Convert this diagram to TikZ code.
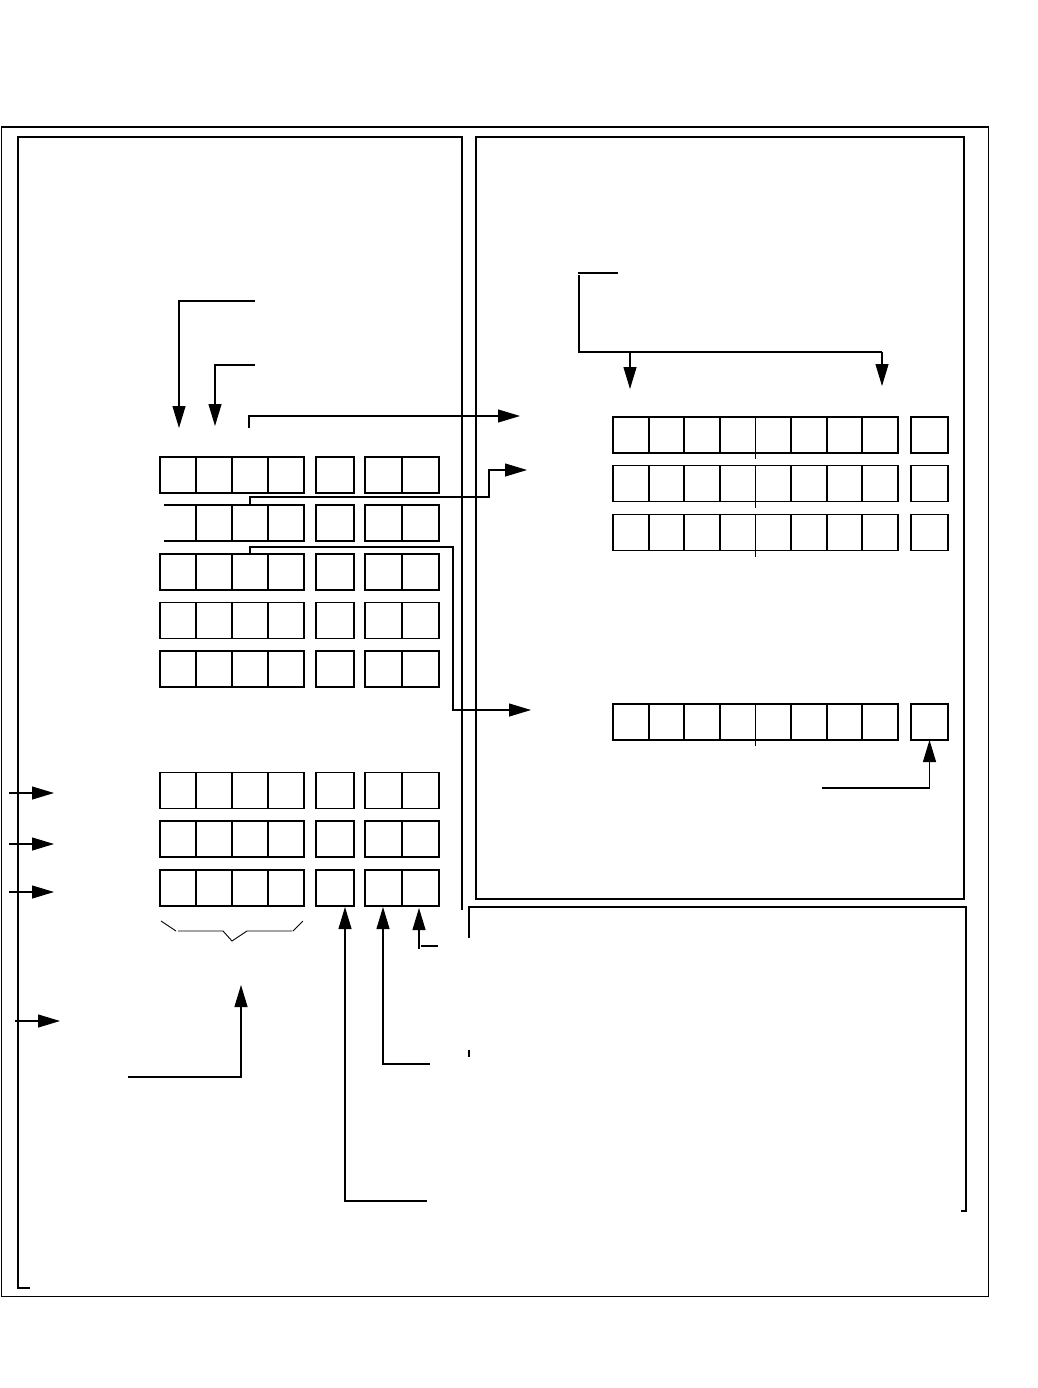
\documentclass[tikz,border=0pt]{standalone}
\usetikzlibrary{arrows.meta,calc}
\begin{document}
\begin{tikzpicture}[x=1pt,y=-1pt,
  frame/.style={line width=1.3pt},
  cell/.style={draw, line width=1.8pt, minimum height=36pt, minimum width=36pt, inner sep=0pt, outer sep=0pt},
  conn/.style={line width=1.1pt},
  arr/.style={conn, -{Triangle[length=22pt,width=13pt]}}]
\useasboundingbox (0,0) rectangle (1037,1388);

% frames
\draw[frame] (1.5,127) rectangle (988.5,1296.5);
\draw[frame] (30,1288) -- (18,1288) -- (18,137) -- (462,137) -- (462,910);
\draw[frame] (476,137) rectangle (964,899);
\draw[frame] (469,938) -- (469,907) -- (966,907) -- (966,1211) -- (961,1211);
\draw[frame] (469,1050) -- (469,1057);

% left panel cells
\foreach \r/\y in {1/475,2/523,3/572,4/620.5,5/669,6/790.5,7/839,8/888} {
  \ifnum\r=2
    \node[cell, draw=none] (L\r-1) at (178,\y) {};
  \else
    \node[cell] (L\r-1) at (178,\y) {};
  \fi
  \foreach \c/\x in {2/214,3/250,4/286} {
    \node[cell] (L\r-\c) at (\x,\y) {};
  }
  \node[cell, minimum width=38pt] (L\r-s) at (335,\y) {};
  \node[cell, minimum width=37pt] (L\r-p1) at (383.5,\y) {};
  \node[cell, minimum width=37pt] (L\r-p2) at (420.5,\y) {};
}
\draw[line width=1.8pt] (164,505) -- (L2-1.north east) (164,541) -- (L2-1.south east);

% right panel cells
\foreach \r/\y in {A/435,B/483.5,C/532.5,D/722} {
  \foreach \c in {1,...,8} {
    \node[cell, minimum width=35.6pt] (R\r-\c) at ({613+35.6*(\c-0.5)},\y) {};
  }
  \node[cell, minimum width=37pt] (R\r-s) at (929.5,\y) {};
  \draw[line width=1.8pt] (R\r-4.south east) -- ++(0,6);
}

% connectors, left panel top
\coordinate (a1) at (255,301);
\coordinate (a2) at (255,365);
\coordinate (a3) at (249,428);
\draw[arr] (a1) -| (179,428);
\draw[arr] (a2) -| (215,426);
\draw[arr] (a3) |- (520,416);
\draw[arr] (L2-3.north) |- (489,497) |- (527,470);
\draw[arr] (L3-3.north) |- (453,547) |- (531,710);

% right panel top
\coordinate (b0) at (578,273);
\coordinate (b1) at (579,275);
\draw[conn] (b0) -- (618,273);
\draw[conn] (b1) -- (579,352) -- (882,352);
\draw[arr] (630,352) -- (630,389);
\draw[arr] (882,352) -- (882,386);
\coordinate (c1) at (822,788);
\draw[arr] (c1) -| (RD-s.south);

% left side arrows
\draw[arr] (9,793) -- (54,793);
\draw[arr] (9,844) -- (54,844);
\draw[arr] (9,892) -- (54,892);
\draw[arr] (15,1021) -- (60,1021);

% brace
\draw[line width=0.9pt] (161,921) -- (176,931) (178,931) -- (223,931) -- (232,941) -- (247,931) -- (292,931) (293,931) -- (303,921);

% bottom arrows
\draw[arr] (128,1077) -| (241,985);
\draw[arr] (427,1201) -| (345,907);
\draw[arr] (430,1064) -| (383,907);
\draw[conn] (438,946) -- (421,946);
\draw[arr] (419,949) -- (419,908);
\end{tikzpicture}
\end{document}
